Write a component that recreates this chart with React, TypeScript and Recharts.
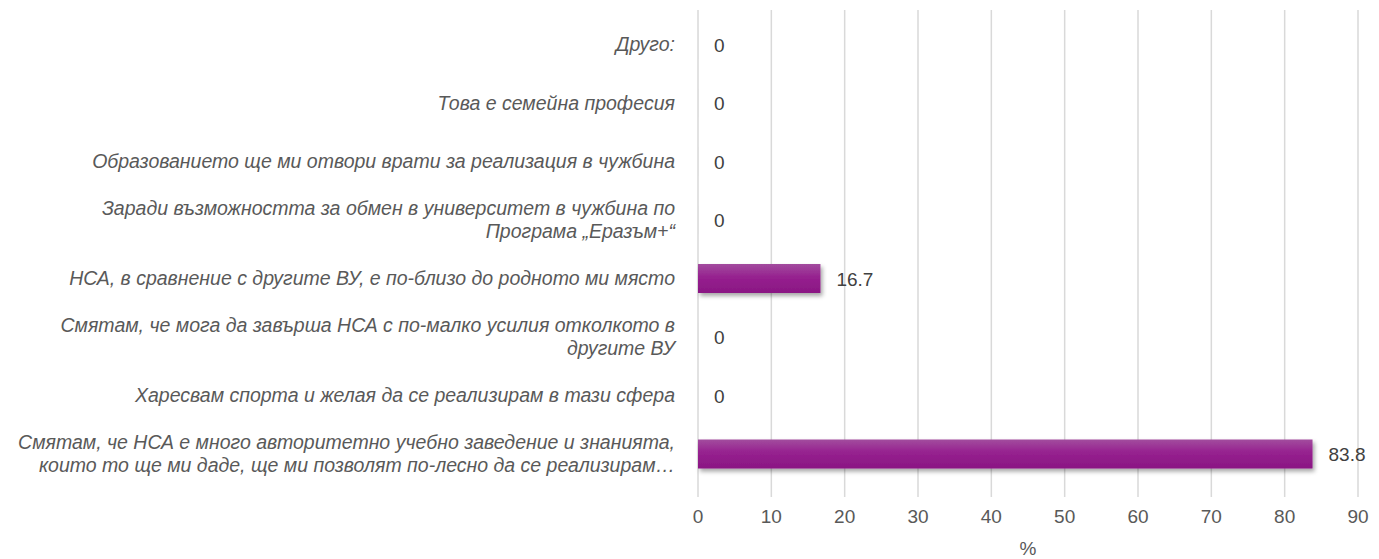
import React from "react";
import { BarChart, Bar, XAxis, YAxis, CartesianGrid, Label } from "recharts";

const categories = [
  "Друго:",
  "Това е семейна професия",
  "Образованието ще ми отвори врати за реализация в чужбина",
  "Заради възможността за обмен в университет в чужбина по\nПрограма „Еразъм+“",
  "НСА, в сравнение с другите ВУ, е по-близо до родното ми място",
  "Смятам, че мога да завърша НСА с по-малко усилия отколкото в\nдругите ВУ",
  "Харесвам спорта и желая да се реализирам в тази сфера",
  "Смятам, че НСА е много авторитетно учебно заведение и знанията,\nкоито то ще ми даде, ще ми позволят по-лесно да се реализирам…",
];
const values = [0, 0, 0, 0, 16.7, 0, 0, 83.8];
const xTicks = [0, 10, 20, 30, 40, 50, 60, 70, 80, 90];

const data = categories.map((name, i) => ({ name, value: values[i] }));

const FONT = '"Liberation Sans", Arial, sans-serif';

function CategoryTick(props: any) {
  const { x, y, payload } = props;
  const lines = String(payload.value).split("\n");
  const lh = 23;
  const start = -((lines.length - 1) * lh) / 2;
  return (
    <text
      x={x}
      y={y}
      textAnchor="end"
      fill="#595959"
      fontSize={19.5}
      fontStyle="italic"
      fontFamily={FONT}
    >
      {lines.map((l, i) => (
        <tspan key={i} x={x} dy={i === 0 ? start + 7 : lh}>
          {l}
        </tspan>
      ))}
    </text>
  );
}

function ValueLabel(props: any) {
  const vb = props.viewBox || {};
  const x = Number(props.x ?? vb.x) || 0;
  const y = Number(props.y ?? vb.y) || 0;
  const w = Number(props.width ?? vb.width) || 0;
  const h = Number(props.height ?? vb.height) || 0;
  return (
    <text x={x + w + 16} y={y + h / 2 + 7} fill="#404040" fontSize={19} fontFamily={FONT}>
      {String(props.value)}
    </text>
  );
}

// zero bars get a hair-thin width so that their "0" label is still drawn
const minSize = (v: any) => (Number(v) === 0 ? 0.01 : 0);

export default function App() {
  return (
    <div style={{ position: "absolute", left: 0, top: 0, background: "#fff" }}>
      <BarChart
        width={1379}
        height={559}
        data={data}
        layout="vertical"
        margin={{ top: 10, right: 21, bottom: 0, left: 0 }}
      >
        <defs>
          <linearGradient id="barFill" x1="0" y1="0" x2="0" y2="1">
            <stop offset="0%" stopColor="#a24c9e" />
            <stop offset="45%" stopColor="#96218f" />
            <stop offset="100%" stopColor="#8a1683" />
          </linearGradient>
          <filter id="barShadow" x="-5%" y="-30%" width="110%" height="180%">
            <feDropShadow dx="2" dy="3" stdDeviation="2" floodColor="#000" floodOpacity="0.35" />
          </filter>
        </defs>
        <CartesianGrid horizontal={false} stroke="#d9d9d9" strokeWidth={1.5} />
        <XAxis
          type="number"
          domain={[0, 90]}
          ticks={xTicks}
          axisLine={false}
          tickLine={false}
          tickMargin={7}
          height={62}
          tick={{ fill: "#595959", fontSize: 19, fontFamily: FONT }}
        >
          <Label value="%" position="insideBottom" offset={4} fill="#595959" fontSize={19} fontFamily={FONT} />
        </XAxis>
        <YAxis
          type="category"
          dataKey="name"
          width={698}
          axisLine={false}
          tickLine={false}
          tickMargin={17}
          padding={{ top: 5, bottom: 14 }}
          tick={<CategoryTick />}
          interval={0}
        />
        <Bar
          dataKey="value"
          fill="url(#barFill)"
          barSize={29}
          minPointSize={minSize}
          filter="url(#barShadow)"
          isAnimationActive={false}
          label={<ValueLabel />}
        />
      </BarChart>
    </div>
  );
}
